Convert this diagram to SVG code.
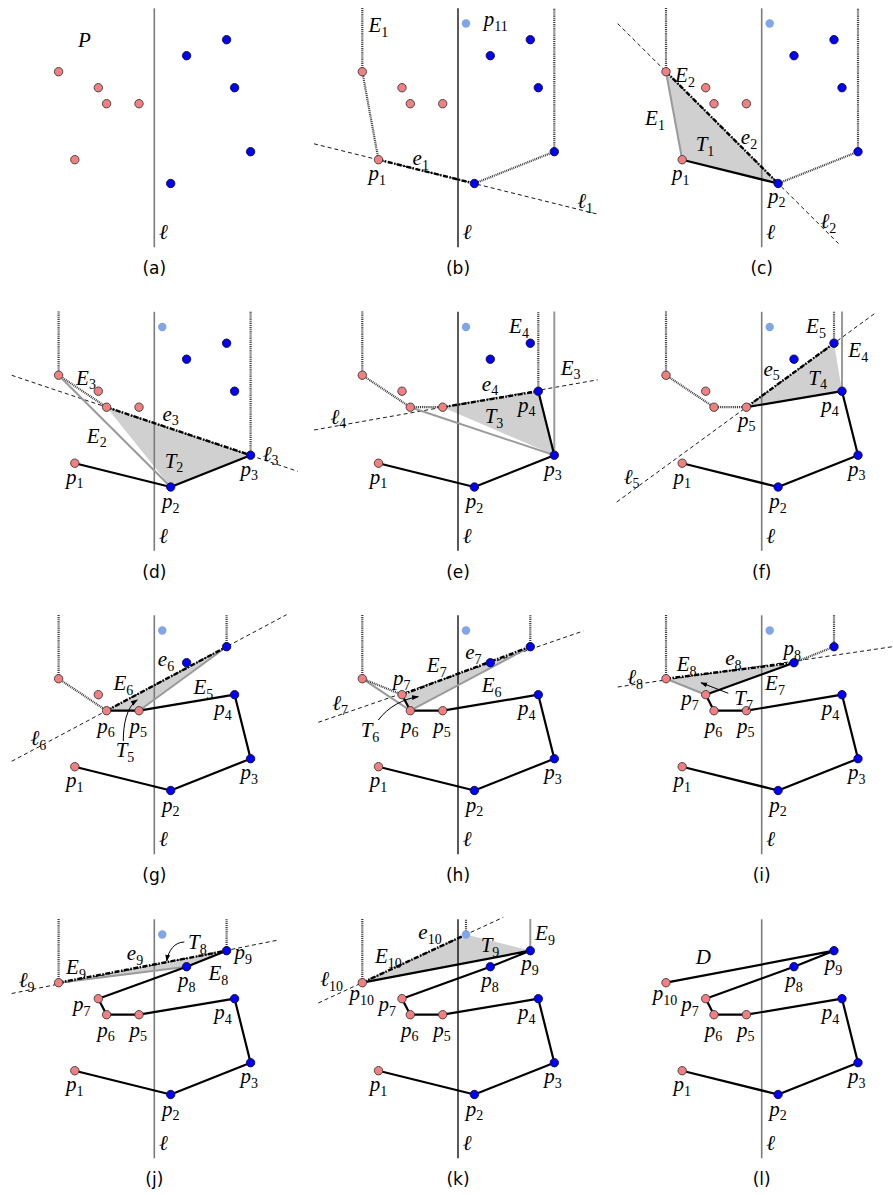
<svg xmlns="http://www.w3.org/2000/svg" xmlns:xlink="http://www.w3.org/1999/xlink" width="893" height="1195" viewBox="0 0 893 1195">
<style>
.ax{stroke:#7a7a7a;stroke-width:1.6}
.axk{stroke:#000;stroke-width:1.3}
.ed{stroke:#000;stroke-width:2.2;fill:none;stroke-linejoin:round}
.dt{stroke:#3a3a3a;stroke-width:2.2;stroke-dasharray:1 0.9;fill:none}
.gr{stroke:#9a9a9a;stroke-width:2;fill:none}
.dd{stroke:#000;stroke-width:2.4;stroke-dasharray:5 1.5 1.5 1.5;fill:none}
.da{stroke:#000;stroke-width:0.9;stroke-dasharray:4 3;fill:none}
.tr{fill:#d0d0d0;stroke:none}
.ar{stroke:#000;stroke-width:1;fill:none}
.pr{fill:#f28080;stroke:#3a3a3a;stroke-width:0.9}
.pb{fill:#0000ff;stroke:#101030;stroke-width:0.9}
.pl{fill:#7fa6e8;stroke:none}
text{font-family:"Liberation Serif","DejaVu Serif",serif;font-style:italic;font-size:21px;text-anchor:middle;fill:#000}
.sb{font-style:normal;font-size:14px}
.cap{font-family:"DejaVu Sans","Liberation Sans",sans-serif;font-style:normal;font-size:17px}
</style>
<defs>
<marker id="ah" viewBox="0 0 10 10" refX="9" refY="5" markerWidth="7" markerHeight="7" orient="auto"><path d="M0,1.5 L10,5 L0,8.5 z" fill="#000"/></marker>
<g id="pts">
<circle class="pr" cx="-79.5" cy="159.7" r="4.2"/>
<circle class="pb" cx="16.4" cy="183.5" r="4.2"/>
<circle class="pb" cx="96.3" cy="151.7" r="4.2"/>
<circle class="pb" cx="80.3" cy="87.7" r="4.2"/>
<circle class="pr" cx="-15.3" cy="103.7" r="4.2"/>
<circle class="pr" cx="-47.7" cy="103.7" r="4.2"/>
<circle class="pr" cx="-56" cy="87.7" r="4.2"/>
<circle class="pb" cx="32.3" cy="55.7" r="4.2"/>
<circle class="pb" cx="72.3" cy="39.7" r="4.2"/>
<circle class="pr" cx="-95.7" cy="71.7" r="4.2"/>
</g>
<circle id="p11" class="pl" cx="8" cy="23.5" r="4.2"/>
<g id="base1">
<text x="-79.5" y="180">p<tspan class="sb" dy="4.5">1</tspan></text>
<text x="16.4" y="204.5">p<tspan class="sb" dy="4.5">2</tspan></text>
<text x="95" y="172">p<tspan class="sb" dy="4.5">3</tspan></text>
</g>
<g id="base2">
<use xlink:href="#base1"/>
<text x="-48.3" y="125.5">p<tspan class="sb" dy="4.5">6</tspan></text>
<text x="-16" y="125.5">p<tspan class="sb" dy="4.5">5</tspan></text>
<text x="68.7" y="108">p<tspan class="sb" dy="4.5">4</tspan></text>
</g>
</defs>

<!-- (a) -->
<g id="panel-a" transform="translate(154.3,0)">
<line class="ax" x1="0" y1="8.3" x2="0" y2="247.3"/>
<use xlink:href="#pts"/>
<text x="-70" y="47">P</text>
<text x="9" y="239">ℓ</text>
<text class="cap" x="0" y="274">(a)</text>
</g>

<!-- (b) -->
<g id="panel-b" transform="translate(458,0)">
<line class="axk" x1="0" y1="8.3" x2="0" y2="247.3"/>
<g id="conn-b">
<line class="da" x1="-144" y1="143.8" x2="140.3" y2="214.3"/>
<path class="dt" d="M-95.7,8 V71.7 L-79.5,159.7 M16.4,183.5 L96.3,151.7 V8"/>
<path class="dd" d="M-79.5,159.7 L16.4,183.5"/>
</g>
<use xlink:href="#pts"/><use xlink:href="#p11"/>
<text x="-79.7" y="32">E<tspan class="sb" dy="4.5">1</tspan></text>
<text x="37.7" y="26">p<tspan class="sb" dy="4.5">11</tspan></text>
<text x="-37.3" y="165">e<tspan class="sb" dy="4.5">1</tspan></text>
<text x="-80.7" y="180">p<tspan class="sb" dy="4.5">1</tspan></text>
<text x="127" y="208">ℓ<tspan class="sb" dy="4.5">1</tspan></text>
<text x="9" y="239">ℓ</text>
<text class="cap" x="0" y="274">(b)</text>
</g>

<!-- (c) -->
<g id="panel-c" transform="translate(761.7,0)">
<polygon class="tr" points="-95.7,71.7 -79.5,159.7 16.4,183.5"/>
<line class="ax" x1="0" y1="8.3" x2="0" y2="247.3"/>
<g id="conn-c">
<line class="da" x1="-144" y1="23.6" x2="76.7" y2="243.5"/>
<path class="dt" d="M-95.7,8 V71.7 M16.4,183.5 L96.3,151.7 V8"/>
<path class="gr" d="M-95.7,71.7 L-79.5,159.7"/>
<path class="ed" d="M-79.5,159.7 L16.4,183.5"/>
<path class="dd" d="M-95.7,71.7 L16.4,183.5"/>
</g>
<use xlink:href="#pts"/><use xlink:href="#p11"/>
<text x="-76.7" y="82">E<tspan class="sb" dy="4.5">2</tspan></text>
<text x="-106.7" y="125">E<tspan class="sb" dy="4.5">1</tspan></text>
<text x="-56.7" y="151">T<tspan class="sb" dy="4.5">1</tspan></text>
<text x="-12.7" y="144">e<tspan class="sb" dy="4.5">2</tspan></text>
<text x="-81" y="180">p<tspan class="sb" dy="4.5">1</tspan></text>
<text x="15" y="202.5">p<tspan class="sb" dy="4.5">2</tspan></text>
<text x="66.7" y="228">ℓ<tspan class="sb" dy="4.5">2</tspan></text>
<text x="9" y="239">ℓ</text>
<text class="cap" x="0" y="274">(c)</text>
</g>

<!-- (d) -->
<g id="panel-d" transform="translate(154.3,303.5)">
<polygon class="tr" points="-47.7,103.7 96.3,151.7 16.4,183.5"/>
<line class="ax" x1="0" y1="8.3" x2="0" y2="247.3"/>
<g id="conn-d">
<line class="da" x1="-142.6" y1="71.8" x2="143.4" y2="167.8"/>
<path class="dt" d="M-95.7,8 V71.7 L-47.7,103.7 M96.3,151.7 V8"/>
<path class="gr" d="M-95.7,71.7 L16.4,183.5"/>
<path class="dd" d="M-47.7,103.7 L96.3,151.7"/>
<path class="ed" d="M-79.5,159.7 L16.4,183.5 L96.3,151.7"/>
</g>
<use xlink:href="#pts"/><use xlink:href="#p11"/>
<use xlink:href="#base1"/>
<text x="-68.3" y="81">E<tspan class="sb" dy="4.5">3</tspan></text>
<text x="16.4" y="117">e<tspan class="sb" dy="4.5">3</tspan></text>
<text x="-57.6" y="139">E<tspan class="sb" dy="4.5">2</tspan></text>
<text x="19.7" y="164">T<tspan class="sb" dy="4.5">2</tspan></text>
<text x="116.4" y="157">ℓ<tspan class="sb" dy="4.5">3</tspan></text>
<text x="9" y="239">ℓ</text>
<text class="cap" x="0" y="274">(d)</text>
</g>

<!-- (e) -->
<g id="panel-e" transform="translate(458,303.5)">
<polygon class="tr" points="-15.3,103.7 80.3,87.7 96.3,151.7"/>
<line class="axk" x1="0" y1="8.3" x2="0" y2="247.3"/>
<g id="conn-e">
<line class="da" x1="-144" y1="126.5" x2="139.7" y2="76.3"/>
<path class="dt" d="M-95.7,8 V71.7 L-47.7,103.7 L-15.3,103.7 M80.3,87.7 V8"/>
<path class="gr" d="M-47.7,103.7 L96.3,151.7 V8"/>
<path class="dd" d="M-15.3,103.7 L80.3,87.7"/>
<path class="ed" d="M80.3,87.7 L96.3,151.7 L16.4,183.5 L-79.5,159.7"/>
</g>
<use xlink:href="#pts"/><use xlink:href="#p11"/>
<use xlink:href="#base1"/>
<text x="61" y="29.5">E<tspan class="sb" dy="4.5">4</tspan></text>
<text x="112.7" y="71">E<tspan class="sb" dy="4.5">3</tspan></text>
<text x="32" y="87">e<tspan class="sb" dy="4.5">4</tspan></text>
<text x="68.7" y="108">p<tspan class="sb" dy="4.5">4</tspan></text>
<text x="36" y="119.5">T<tspan class="sb" dy="4.5">3</tspan></text>
<text x="-119.7" y="120">ℓ<tspan class="sb" dy="4.5">4</tspan></text>
<text x="9" y="239">ℓ</text>
<text class="cap" x="0" y="274">(e)</text>
</g>

<!-- (f) -->
<g id="panel-f" transform="translate(761.7,303.5)">
<polygon class="tr" points="-15.3,103.7 72.3,39.7 80.3,87.7"/>
<line class="ax" x1="0" y1="8.3" x2="0" y2="247.3"/>
<g id="conn-f">
<line class="da" x1="-145" y1="198.5" x2="113" y2="10"/>
<path class="dt" d="M-95.7,8 V71.7 L-47.7,103.7 L-15.3,103.7 M72.3,39.7 V8"/>
<path class="gr" d="M80.3,87.7 V8"/>
<path class="dd" d="M-15.3,103.7 L72.3,39.7"/>
<path class="ed" d="M-15.3,103.7 L80.3,87.7 L96.3,151.7 L16.4,183.5 L-79.5,159.7"/>
</g>
<use xlink:href="#pts"/><use xlink:href="#p11"/>
<use xlink:href="#base1"/>
<text x="54.3" y="29.5">E<tspan class="sb" dy="4.5">5</tspan></text>
<text x="96.6" y="53.5">E<tspan class="sb" dy="4.5">4</tspan></text>
<text x="10" y="72">e<tspan class="sb" dy="4.5">5</tspan></text>
<text x="56" y="81">T<tspan class="sb" dy="4.5">4</tspan></text>
<text x="68.3" y="108">p<tspan class="sb" dy="4.5">4</tspan></text>
<text x="-15" y="123">p<tspan class="sb" dy="4.5">5</tspan></text>
<text x="-130" y="180">ℓ<tspan class="sb" dy="4.5">5</tspan></text>
<text x="9" y="239">ℓ</text>
<text class="cap" x="0" y="274">(f)</text>
</g>

<!-- (g) -->
<g id="panel-g" transform="translate(154.3,607)">
<polygon class="tr" points="-47.7,103.7 72.3,39.7 -15.3,103.7"/>
<line class="ax" x1="0" y1="8.3" x2="0" y2="247.3"/>
<g id="conn-g">
<line class="da" x1="-142.6" y1="154.3" x2="132.3" y2="7.7"/>
<path class="dt" d="M-95.7,8 V71.7 L-47.7,103.7 M72.3,39.7 V8"/>
<path class="gr" d="M-15.3,103.7 L72.3,39.7"/>
<path class="dd" d="M-47.7,103.7 L72.3,39.7"/>
<path class="ed" d="M-47.7,103.7 L-15.3,103.7 L80.3,87.7 L96.3,151.7 L16.4,183.5 L-79.5,159.7"/>
<path class="ar" marker-end="url(#ah)" d="M-31,134 C-31,118 -28,100 -17,93"/>
</g>
<use xlink:href="#pts"/><use xlink:href="#p11"/>
<use xlink:href="#base2"/>
<text x="-31" y="83">E<tspan class="sb" dy="4.5">6</tspan></text>
<text x="11.7" y="59">e<tspan class="sb" dy="4.5">6</tspan></text>
<text x="49" y="87">E<tspan class="sb" dy="4.5">5</tspan></text>
<text x="-29.3" y="150">T<tspan class="sb" dy="4.5">5</tspan></text>
<text x="-116" y="138">ℓ<tspan class="sb" dy="4.5">6</tspan></text>
<text x="9" y="239">ℓ</text>
<text class="cap" x="0" y="274">(g)</text>
</g>

<!-- (h) -->
<g id="panel-h" transform="translate(458,607)">
<polygon class="tr" points="-56,87.7 72.3,39.7 -47.7,103.7"/>
<line class="axk" x1="0" y1="8.3" x2="0" y2="247.3"/>
<g id="conn-h">
<line class="da" x1="-139.7" y1="115.3" x2="125.3" y2="24"/>
<path class="gr" d="M-95.7,71.7 L-47.7,103.7 L72.3,39.7"/>
<path class="dt" d="M-95.7,8 V71.7 L-56,87.7 M72.3,39.7 V8"/>
<path class="dd" d="M-56,87.7 L72.3,39.7"/>
<path class="ed" d="M-56,87.7 L-47.7,103.7 L-15.3,103.7 L80.3,87.7 L96.3,151.7 L16.4,183.5 L-79.5,159.7"/>
<path class="ar" marker-end="url(#ah)" d="M-79.7,113 C-70,100 -55,92 -39.7,89.7"/>
</g>
<use xlink:href="#pts"/><use xlink:href="#p11"/>
<use xlink:href="#base2"/>
<text x="-21.3" y="65">E<tspan class="sb" dy="4.5">7</tspan></text>
<text x="15.3" y="52">e<tspan class="sb" dy="4.5">7</tspan></text>
<text x="-56.3" y="78">p<tspan class="sb" dy="4.5">7</tspan></text>
<text x="33.7" y="85">E<tspan class="sb" dy="4.5">6</tspan></text>
<text x="-118" y="103">ℓ<tspan class="sb" dy="4.5">7</tspan></text>
<text x="-88" y="130">T<tspan class="sb" dy="4.5">6</tspan></text>
<text x="9" y="239">ℓ</text>
<text class="cap" x="0" y="274">(h)</text>
</g>

<!-- (i) -->
<g id="panel-i" transform="translate(761.7,607)">
<polygon class="tr" points="-95.7,71.7 32.3,55.7 -56,87.7"/>
<line class="ax" x1="0" y1="8.3" x2="0" y2="247.3"/>
<g id="conn-i">
<line class="da" x1="-144" y1="80" x2="131" y2="39.7"/>
<path class="dt" d="M-95.7,8 V71.7 M32.3,55.7 L72.3,39.7 V8"/>
<path class="gr" d="M-95.7,71.7 L-56,87.7"/>
<path class="dd" d="M-95.7,71.7 L32.3,55.7"/>
<path class="ed" d="M32.3,55.7 L-56,87.7 L-47.7,103.7 L-15.3,103.7 L80.3,87.7 L96.3,151.7 L16.4,183.5 L-79.5,159.7"/>
<path class="ar" marker-end="url(#ah)" d="M-33.4,86.3 L-60.7,75.7"/>
</g>
<use xlink:href="#pts"/><use xlink:href="#p11"/>
<use xlink:href="#base2"/>
<text x="-75" y="64">E<tspan class="sb" dy="4.5">8</tspan></text>
<text x="-28.3" y="58">e<tspan class="sb" dy="4.5">8</tspan></text>
<text x="30.6" y="48">p<tspan class="sb" dy="4.5">8</tspan></text>
<text x="13.3" y="83">E<tspan class="sb" dy="4.5">7</tspan></text>
<text x="-126.7" y="77">ℓ<tspan class="sb" dy="4.5">8</tspan></text>
<text x="-18" y="98">T<tspan class="sb" dy="4.5">7</tspan></text>
<text x="-71.7" y="98">p<tspan class="sb" dy="4.5">7</tspan></text>
<text x="9" y="239">ℓ</text>
<text class="cap" x="0" y="274">(i)</text>
</g>

<!-- (j) -->
<g id="panel-j" transform="translate(154.3,911)">
<polygon class="tr" points="-95.7,71.7 72.3,39.7 32.3,55.7"/>
<line class="ax" x1="0" y1="8.3" x2="0" y2="247.3"/>
<g id="conn-j">
<line class="da" x1="-142.6" y1="82.5" x2="124" y2="29"/>
<path class="dt" d="M-95.7,8 V71.7 M72.3,39.7 V8"/>
<path class="gr" d="M-95.7,71.7 L32.3,55.7"/>
<path class="dd" d="M-95.7,71.7 L72.3,39.7"/>
<path class="ed" d="M72.3,39.7 L32.3,55.7 L-56,87.7 L-47.7,103.7 L-15.3,103.7 L80.3,87.7 L96.3,151.7 L16.4,183.5 L-79.5,159.7"/>
<path class="ar" marker-end="url(#ah)" d="M30,31 C20,31 14,40 12.4,50"/>
</g>
<use xlink:href="#pts"/><use xlink:href="#p11"/>
<use xlink:href="#base2"/>
<text x="43" y="38">T<tspan class="sb" dy="4.5">8</tspan></text>
<text x="-78.3" y="63">E<tspan class="sb" dy="4.5">9</tspan></text>
<text x="-19.3" y="49">e<tspan class="sb" dy="4.5">9</tspan></text>
<text x="89" y="48">p<tspan class="sb" dy="4.5">9</tspan></text>
<text x="64" y="69">E<tspan class="sb" dy="4.5">8</tspan></text>
<text x="32.4" y="76">p<tspan class="sb" dy="4.5">8</tspan></text>
<text x="-127.6" y="76">ℓ<tspan class="sb" dy="4.5">9</tspan></text>
<text x="-72.6" y="100">p<tspan class="sb" dy="4.5">7</tspan></text>
<text x="9" y="239">ℓ</text>
<text class="cap" x="0" y="274">(j)</text>
</g>

<!-- (k) -->
<g id="panel-k" transform="translate(458,911)">
<polygon class="tr" points="-95.7,71.7 8,23.5 72.3,39.7"/>
<line class="axk" x1="0" y1="8.3" x2="0" y2="247.3"/>
<g id="conn-k">
<line class="da" x1="-139.7" y1="92" x2="45.3" y2="6.3"/>
<path class="dt" d="M-95.7,8 V71.7 M8,23.5 V8"/>
<path class="gr" d="M72.3,39.7 V8"/>
<path class="dd" d="M-95.7,71.7 L8,23.5"/>
<path class="ed" d="M-95.7,71.7 L72.3,39.7 L32.3,55.7 L-56,87.7 L-47.7,103.7 L-15.3,103.7 L80.3,87.7 L96.3,151.7 L16.4,183.5 L-79.5,159.7"/>
</g>
<use xlink:href="#pts"/><use xlink:href="#p11"/>
<use xlink:href="#base2"/>
<text x="-28" y="28">e<tspan class="sb" dy="4.5">10</tspan></text>
<text x="32" y="41">T<tspan class="sb" dy="4.5">9</tspan></text>
<text x="87" y="29">E<tspan class="sb" dy="4.5">9</tspan></text>
<text x="-69.7" y="52">E<tspan class="sb" dy="4.5">10</tspan></text>
<text x="-126.3" y="75">ℓ<tspan class="sb" dy="4.5">10</tspan></text>
<text x="-96.3" y="89">p<tspan class="sb" dy="4.5">10</tspan></text>
<text x="72" y="59">p<tspan class="sb" dy="4.5">9</tspan></text>
<text x="32" y="76">p<tspan class="sb" dy="4.5">8</tspan></text>
<text x="-70.7" y="100">p<tspan class="sb" dy="4.5">7</tspan></text>
<text x="9" y="239">ℓ</text>
<text class="cap" x="0" y="274">(k)</text>
</g>

<!-- (l) -->
<g id="panel-l" transform="translate(761.7,911)">
<line class="ax" x1="0" y1="8.3" x2="0" y2="247.3"/>
<g id="conn-l">
<path class="ed" d="M-95.7,71.7 L72.3,39.7 L32.3,55.7 L-56,87.7 L-47.7,103.7 L-15.3,103.7 L80.3,87.7 L96.3,151.7 L16.4,183.5 L-79.5,159.7"/>
</g>
<use xlink:href="#pts"/>
<use xlink:href="#base2"/>
<text x="-58.4" y="53">D</text>
<text x="-96.7" y="89">p<tspan class="sb" dy="4.5">10</tspan></text>
<text x="-71.7" y="100">p<tspan class="sb" dy="4.5">7</tspan></text>
<text x="71.7" y="59">p<tspan class="sb" dy="4.5">9</tspan></text>
<text x="32.3" y="76">p<tspan class="sb" dy="4.5">8</tspan></text>
<text x="9" y="239">ℓ</text>
<text class="cap" x="0" y="274">(l)</text>
</g>
</svg>
